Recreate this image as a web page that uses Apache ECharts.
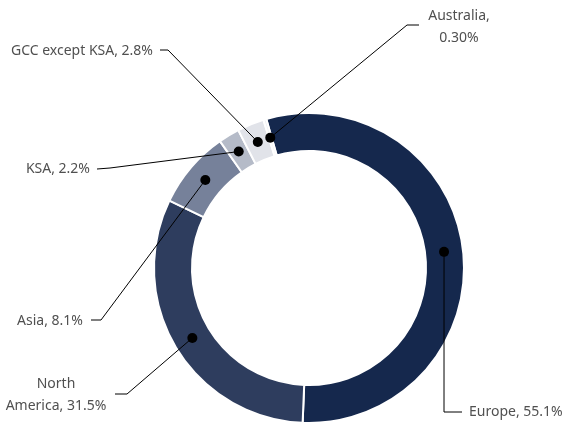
<!DOCTYPE html>
<html>
<head>
<meta charset="utf-8">
<script src="https://cdn.jsdelivr.net/npm/echarts@6/dist/echarts.min.js"></script>
<style>
html,body{margin:0;padding:0;background:#fff;}
#main{width:563px;height:425px;}
</style>
</head>
<body>
<div id="main"></div>
<script>
// ---- data ----
const categories = ['Europe', 'North America', 'Asia', 'KSA', 'GCC except KSA', 'Australia'];
const values = [55.1, 31.5, 8.1, 2.2, 2.8, 0.30];
const labelTexts = ['Europe, 55.1%', 'North\nAmerica, 31.5%', 'Asia, 8.1%', 'KSA, 2.2%', 'GCC except KSA, 2.8%', 'Australia,\n0.30%'];

// ---- styles / layout ----
const colors = ['#15284d', '#2e3d5e', '#76819a', '#b5bbc8', '#e1e3e9', '#eef0f3'];
const CX = 309, CY = 268, R_OUT = 155, R_IN = 117, R_DOT = 136, START = 106;
const labelPlace = [
  {x: 469, y: 412, align: 'left',   elbow: [444, 412], end: [462, 412]},
  {x: 56,  y: 395, align: 'center', elbow: [127, 394], end: [115, 394]},
  {x: 83,  y: 321, align: 'right',  elbow: [101, 320], end: [91, 320]},
  {x: 90,  y: 169, align: 'right',  elbow: [110, 168], end: [97, 169]},
  {x: 153, y: 51,  align: 'right',  elbow: [168, 50],  end: [160, 50]},
  {x: 459, y: 27,  align: 'center', elbow: [407, 25],  end: [419, 25]}
];

const total = values.reduce((a, b) => a + b, 0);
const mids = [];
let cum = 0;
values.forEach(v => { mids.push(cum + v / 2); cum += v; });

const chart = echarts.init(document.getElementById('main'), null, {renderer: 'canvas'});

let dots = mids.map(m => {
  const a = (-(START - 90) + m / total * 360) * Math.PI / 180;
  return [CX + R_DOT * Math.sin(a), CY - R_DOT * Math.cos(a)];
});

function buildOption() {
  return {
    backgroundColor: '#fff',
    animation: false,
    polar: {center: [CX, CY], radius: R_OUT},
    angleAxis: {type: 'value', min: 0, max: total, startAngle: START, clockwise: true, show: false},
    radiusAxis: {type: 'value', min: 0, max: R_OUT, show: false},
    graphic: labelPlace.map((L, i) => ({
      type: 'polyline',
      silent: true,
      z: 4,
      shape: {points: [dots[i], L.elbow, L.end]},
      style: {stroke: '#000', lineWidth: 1, fill: null}
    })),
    series: [
      {
        id: 'pie',
        type: 'pie',
        center: [CX, CY],
        radius: [R_IN, R_OUT],
        startAngle: START,
        clockwise: true,
        avoidLabelOverlap: false,
        silent: true,
        itemStyle: {borderColor: '#fff', borderWidth: 2},
        data: categories.map((c, i) => ({name: c, value: values[i], itemStyle: {color: colors[i]}})),
        label: {
          show: true,
          position: 'outside',
          formatter: p => labelTexts[p.dataIndex],
          fontFamily: 'Noto Sans',
          fontSize: 14,
          lineHeight: 22,
          color: '#505050'
        },
        labelLine: {show: false},
        labelLayout: function (params) {
          const L = labelPlace[params.dataIndex];
          return {x: L.x, y: L.y, align: L.align, verticalAlign: 'middle'};
        }
      },
      {
        id: 'dots',
        type: 'scatter',
        coordinateSystem: 'polar',
        symbol: 'circle',
        symbolSize: 10,
        silent: true,
        z: 5,
        itemStyle: {color: '#000', opacity: 1},
        data: mids.map(m => [R_DOT, m])
      }
    ]
  };
}

chart.setOption(buildOption());
try {
  const px = mids.map(m => chart.convertToPixel({seriesIndex: 1}, [R_DOT, m]));
  if (px.every(p => p && isFinite(p[0]) && isFinite(p[1]))) {
    dots = px;
    chart.setOption(buildOption());
  }
} catch (e) {}
</script>
</body>
</html>
